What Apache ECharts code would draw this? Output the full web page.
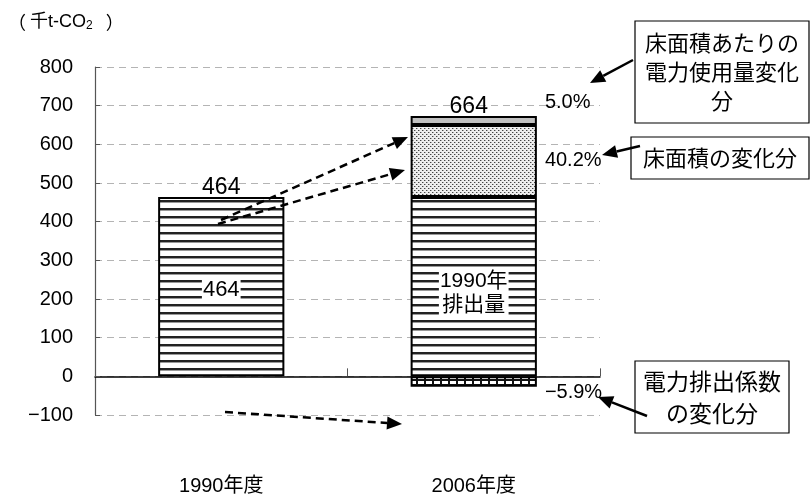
<!DOCTYPE html>
<html>
<head>
<meta charset="utf-8">
<script src="https://cdn.jsdelivr.net/npm/echarts@6/dist/echarts.min.js"></script>
<style>
  html, body { margin: 0; padding: 0; background: #fff; }
  #chart { width: 810px; height: 503px; }
</style>
</head>
<body>
<div id="chart"></div>
<script>
// 業務部門 CO2 排出量の要因分解（1990年度→2006年度）
const categories = ['1990年度', '2006年度'];
const baseEmission = [464, 464];          // 1990年排出量
const floorAreaChange = ['-', 186];       // 床面積の変化分
const intensityChange = ['-', 23];        // 床面積あたりの電力使用量変化分
const factorChange = ['-', -27];          // 電力排出係数の変化分
const totalLabels = ['464', '664'];
const baseInnerLabels = ['464', '1990年\n排出量'];
const floorAreaShare = ['', '40.2%'];
const intensityShare = ['', '5.0%'];
const factorShare = ['', '−5.9%'];
const yTicks = { min: -100, max: 800, step: 100 };

const FONT = "'Liberation Sans', 'Noto Sans CJK JP', sans-serif";
const JP = "'Noto Sans CJK JP', sans-serif";

function tile(w, h, draw) {
  const c = document.createElement('canvas');
  c.width = w; c.height = h;
  const ctx = c.getContext('2d');
  draw(ctx);
  return { image: c, repeat: 'repeat' };
}
// 横縞
const stripes = tile(8, 8, ctx => {
  ctx.fillStyle = '#fff'; ctx.fillRect(0, 0, 8, 8);
  ctx.fillStyle = '#222'; ctx.fillRect(0, 0, 8, 2);
  ctx.fillStyle = '#999'; ctx.fillRect(0, 2, 8, 1);
});
// 細かい点
const dots = tile(4, 4, ctx => {
  ctx.fillStyle = '#eeeeee'; ctx.fillRect(0, 0, 4, 4);
  ctx.fillStyle = '#444'; ctx.fillRect(0, 0, 1, 1); ctx.fillRect(2, 2, 1, 1);
  ctx.fillStyle = '#aaa'; ctx.fillRect(1, 0, 1, 1); ctx.fillRect(3, 2, 1, 1);
});
// 格子
const grid = tile(8, 5, ctx => {
  ctx.fillStyle = '#111'; ctx.fillRect(0, 0, 8, 5);
  ctx.fillStyle = '#fff'; ctx.fillRect(2, 1, 6, 3);
});

const border = { borderColor: '#000', borderWidth: 2 };

const stackTop = baseEmission.map((v, i) =>
  [v, floorAreaChange[i], intensityChange[i]]
    .reduce((s, x) => s + (typeof x === 'number' && x > 0 ? x : 0), 0));

function shareLabel(arr, offset) {
  return {
    show: true, position: 'right', distance: 8, offset: offset,
    formatter: p => arr[p.dataIndex],
    fontFamily: FONT, fontSize: 20, color: '#000'
  };
}

const chart = echarts.init(document.getElementById('chart'), null, { renderer: 'canvas' });

// 注記の矢印
function arrow(x1, y1, x2, y2, dashed) {
  const dx = x2 - x1, dy = y2 - y1;
  const len = Math.hypot(dx, dy);
  const ux = dx / len, uy = dy / len;
  const L = 15, W = 6.5;
  const bx = x2 - ux * L, by = y2 - uy * L;
  return [
    { type: 'line', shape: { x1: x1, y1: y1, x2: bx, y2: by },
      style: { stroke: '#000', lineWidth: 2.5, lineDash: dashed ? [8, 5] : null }, z: 20 },
    { type: 'polygon', shape: { points: [[x2, y2], [bx - uy * W, by + ux * W], [bx + uy * W, by - ux * W]] },
      style: { fill: '#000' }, z: 20 }
  ];
}
function box(x, y, w, h, lines, lh, size) {
  return [
    { type: 'rect', shape: { x: x, y: y, width: w, height: h },
      style: { fill: '#fff', stroke: '#000', lineWidth: 1.2 }, z: 15 },
    { type: 'text', x: x + w / 2, y: y + h / 2, z: 16,
      style: { text: lines.join('\n'), font: (size || 22) + 'px ' + JP, fill: '#000',
               align: 'center', verticalAlign: 'middle', lineHeight: lh } }
  ];
}

const option = {
  animation: false,
  grid: { left: 95, right: 210, top: 67, bottom: 88, containLabel: false, outerBoundsMode: 'none' },
  xAxis: {
    type: 'category', data: categories,
    axisLine: { onZero: true, lineStyle: { color: '#000', width: 1.5 } },
    axisTick: { show: true, inside: true, length: 8, lineStyle: { color: '#555' } },
    axisLabel: { margin: 61, fontFamily: FONT, fontSize: 20, color: '#000' },
    splitLine: { show: false }
  },
  yAxis: {
    type: 'value', min: yTicks.min, max: yTicks.max, interval: yTicks.step,
    axisLine: { show: true, lineStyle: { color: '#555', width: 1.2 } },
    axisTick: { show: true, inside: true, length: 5, lineStyle: { color: '#555' } },
    axisLabel: { margin: 22, fontFamily: FONT, fontSize: 20, color: '#000',
                 formatter: v => v < 0 ? '−' + Math.abs(v) : String(v) },
    splitLine: { show: true, lineStyle: { color: '#b4b4b4', type: [7, 5], width: 1 } }
  },
  series: [
    {
      name: '1990年排出量', type: 'bar', stack: 'total', barCategoryGap: '50%',
      data: baseEmission.map((v, i) => ({
        value: v,
        label: {
          show: true, position: 'inside', offset: [0, i === 1 ? 7 : 3],
          formatter: baseInnerLabels[i], backgroundColor: '#fff',
          padding: [1, 1], fontFamily: FONT, fontSize: i === 1 ? 21 : 22,
          lineHeight: 24, color: '#000'
        }
      })),
      itemStyle: Object.assign({ color: stripes }, border)
    },
    {
      name: '床面積の変化分', type: 'bar', stack: 'total', data: floorAreaChange,
      itemStyle: Object.assign({ color: dots }, border),
      label: shareLabel(floorAreaShare, [0, 0])
    },
    {
      name: '床面積あたりの電力使用量変化分', type: 'bar', stack: 'total', data: intensityChange,
      itemStyle: Object.assign({ color: '#c0c0c0' }, border),
      label: shareLabel(intensityShare, [0, -18])
    },
    {
      name: '電力排出係数の変化分', type: 'bar', stack: 'total', data: factorChange,
      itemStyle: Object.assign({ color: grid }, border),
      label: shareLabel(factorShare, [0, 11])
    },
    {
      name: '合計', type: 'scatter', symbolSize: 0, z: 10,
      data: stackTop.map((v, i) => ({ value: v, label: { offset: [i === 1 ? -5 : 0, 0] } })),
      itemStyle: { opacity: 1 },
      label: {
        show: true, position: 'top', distance: -2,
        formatter: p => totalLabels[p.dataIndex],
        fontFamily: FONT, fontSize: 23, color: '#000', opacity: 1
      }
    }
  ],
  graphic: [
    { type: 'text', x: 8, y: 22, z: 20,
      style: { text: '{p|（}{t|千t-CO}{s|2}{q|）}', fill: '#000', verticalAlign: 'middle',
               rich: {
                 p: { fontSize: 18, fontFamily: JP, padding: [0, 4, 0, 0] },
                 q: { fontSize: 18, fontFamily: JP, padding: [0, 0, 0, 13] },
                 t: { fontSize: 18, fontFamily: FONT },
                 s: { fontSize: 12, fontFamily: FONT, verticalAlign: 'bottom', padding: [7, 0, 0, 0] }
               } } }
  ]
    .concat(box(635, 21, 174, 102, ['床面積あたりの', '電力使用量変化', '分'], 29, 22))
    .concat(box(631, 137, 178, 42, ['床面積の変化分'], 26, 22))
    .concat(box(635, 361, 154, 72, ['電力排出係数', 'の変化分'], 32, 23))
    .concat(arrow(633, 60, 590, 83, false))
    .concat(arrow(640, 146, 602, 155, false))
    .concat(arrow(647, 416, 598, 397, false))
    .concat(arrow(221, 220, 408, 137, true))
    .concat(arrow(218, 224, 405, 170, true))
    .concat(arrow(225, 412, 402, 424, true))
};

chart.setOption(option);
</script>
</body>
</html>
